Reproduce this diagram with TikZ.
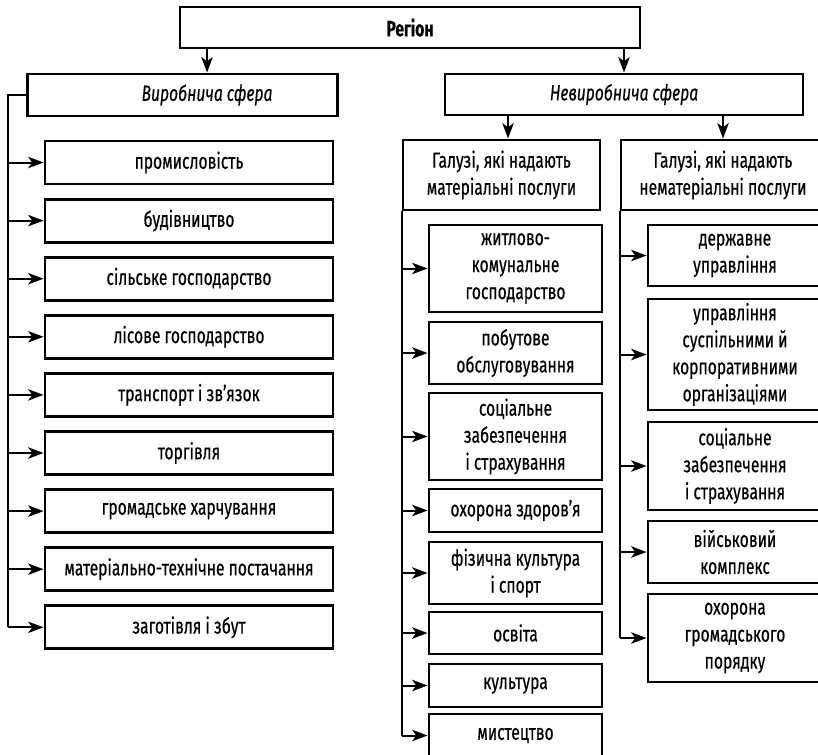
\documentclass[tikz,border=0pt]{standalone}
\usepackage{fontspec}
\setmainfont{Fira Sans}[FakeStretch=0.71, FakeBold=0.4]
\usetikzlibrary{arrows.meta}

\begin{document}
\fontsize{16.5}{20.25}\selectfont
\begin{tikzpicture}[x=0.75pt, y=-0.75pt,
    box/.style={draw, line width=2.2pt, align=center, inner sep=0pt},
    link/.style={line width=1.5pt},
    arrow/.style={link, -{Stealth[length=11.5pt, width=8.5pt, inset=3pt]}}]
    \useasboundingbox (0, 0) rectangle (818, 754);
    \clip (0, 0) rectangle (818, 754);

    \node[box, minimum width=345pt, minimum height=30.75pt] (region) at (410, 27.5) {\bfseries Регіон};

    \node[box, minimum width=233pt, minimum height=31.5pt] (vyr) at (182.5, 95) {\hspace*{36.8pt}\itshape Виробнича сфера};
    \draw[arrow] ([xshift=18.4pt]vyr.north |- region.south) -- ([xshift=18.4pt]vyr.north);
    \node[box, minimum width=268.5pt, minimum height=30.75pt] (nevyr) at (624, 94.5) {\itshape Невиробнича сфера};
    \draw[arrow] (nevyr.north |- region.south) -- (nevyr.north);

    \node[box, minimum width=216pt, minimum height=32.25pt] (prom) at (189, 162.5) {промисловість};
    \node[box, minimum width=216pt, minimum height=32.25pt] (bud) at (189, 220.6) {будівництво};
    \node[box, minimum width=216pt, minimum height=32.25pt] (sil) at (189, 278.7) {сільське господарство};
    \node[box, minimum width=216pt, minimum height=32.25pt] (lis) at (189, 336.8) {лісове господарство};
    \node[box, minimum width=216pt, minimum height=32.25pt] (tran) at (189, 394.9) {транспорт і зв’язок};
    \node[box, minimum width=216pt, minimum height=32.25pt] (torg) at (189, 453) {торгівля};
    \node[box, minimum width=216pt, minimum height=32.25pt] (harch) at (189, 511.1) {громадське харчування};
    \node[box, minimum width=216pt, minimum height=32.25pt] (post) at (189, 569.2) {матеріально-технічне постачання};
    \node[box, minimum width=216pt, minimum height=32.25pt] (zag) at (189, 627.3) {заготівля і збут};

    \draw[link] (vyr.west) -- ++(-18, 0) coordinate (vt) -- (vt |- zag.west);
    \draw[arrow] (vt |- prom.west) -- (prom.west);
    \draw[arrow] (vt |- bud.west) -- (bud.west);
    \draw[arrow] (vt |- sil.west) -- (sil.west);
    \draw[arrow] (vt |- lis.west) -- (lis.west);
    \draw[arrow] (vt |- tran.west) -- (tran.west);
    \draw[arrow] (vt |- torg.west) -- (torg.west);
    \draw[arrow] (vt |- harch.west) -- (harch.west);
    \draw[arrow] (vt |- post.west) -- (post.west);
    \draw[arrow] (vt |- zag.west) -- (zag.west);

    \node[box, minimum width=147.75pt, minimum height=52.5pt] (mat) at (501.5, 175) {Галузі, які надають\\матеріальні послуги};
    \draw[arrow] ([xshift=4.9pt]mat.north |- nevyr.south) -- ([xshift=4.9pt]mat.north);
    \node[box, minimum width=153pt, minimum height=52.5pt] (nemat) at (723, 175) {Галузі, які надають\\нематеріальні послуги};
    \draw[arrow] (nemat.north |- nevyr.south) -- (nemat.north);

    \node[box, minimum width=129.75pt, minimum height=65.25pt] (zhk) at (515.5, 268.5) {житлово-\\комунальне\\господарство};
    \node[box, minimum width=129.75pt, minimum height=46.5pt] (pob) at (515.5, 353) {побутове\\обслуговування};
    \node[box, minimum width=129.75pt, minimum height=65.25pt] (soc) at (515.5, 436.5) {соціальне\\забезпечення\\і страхування};
    \node[box, minimum width=129.75pt, minimum height=32.25pt] (zdor) at (515.5, 510.5) {охорона здоров’я};
    \node[box, minimum width=129.75pt, minimum height=46.5pt] (fiz) at (515.5, 573) {фізична культура\\і спорт};
    \node[box, minimum width=129.75pt, minimum height=31.5pt] (osv) at (515.5, 633) {освіта};
    \node[box, minimum width=129.75pt, minimum height=32.25pt] (kult) at (515.5, 685.5) {культура};
    \node[box, minimum width=129.75pt, minimum height=32.25pt] (myst) at (515.5, 735.5) {мистецтво};

    \draw[link] (mat.south west) -- (mat.south west |- myst.west);
    \draw[arrow] (mat.south west |- zhk.west) -- (zhk.west);
    \draw[arrow] (mat.south west |- pob.west) -- (pob.west);
    \draw[arrow] (mat.south west |- soc.west) -- (soc.west);
    \draw[arrow] (mat.south west |- zdor.west) -- (zdor.west);
    \draw[arrow] (mat.south west |- fiz.west) -- (fiz.west);
    \draw[arrow] (mat.south west |- osv.west) -- (osv.west);
    \draw[arrow] (mat.south west |- kult.west) -- (kult.west);
    \draw[arrow] (mat.south west |- myst.west) -- (myst.west);

    \node[box, minimum width=130.5pt, minimum height=45.75pt] (derzh) at (735, 255.5) {державне\\управління};
    \node[box, minimum width=130.5pt, minimum height=83.25pt] (upr) at (735, 354.5) {управління\\суспільними й\\корпоративними\\організаціями};
    \node[box, minimum width=130.5pt, minimum height=66pt] (soc2) at (735, 466) {соціальне\\забезпечення\\і страхування};
    \node[box, minimum width=130.5pt, minimum height=46.5pt] (viy) at (735, 552) {військовий\\комплекс};
    \node[box, minimum width=130.5pt, minimum height=66pt] (por) at (735, 638) {охорона\\громадського\\порядку};

    \draw[link] (nemat.south west) -- (nemat.south west |- por.west);
    \draw[arrow] (nemat.south west |- derzh.west) -- (derzh.west);
    \draw[arrow] (nemat.south west |- upr.west) -- (upr.west);
    \draw[arrow] (nemat.south west |- soc2.west) -- (soc2.west);
    \draw[arrow] (nemat.south west |- viy.west) -- (viy.west);
    \draw[arrow] (nemat.south west |- por.west) -- (por.west);
\end{tikzpicture}
\end{document}
